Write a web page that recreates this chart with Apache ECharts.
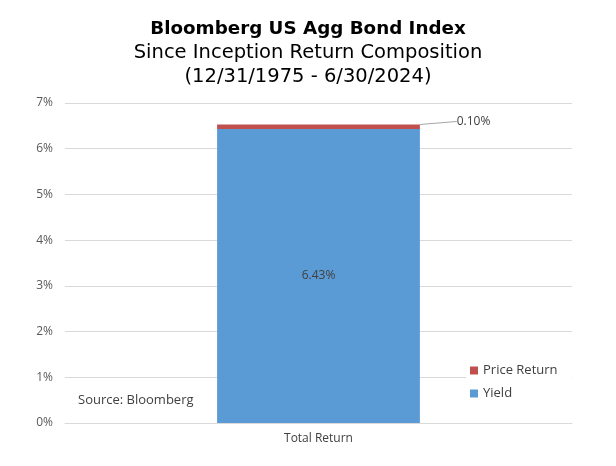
<!DOCTYPE html>
<html><head><meta charset="utf-8">
<script src="https://cdn.jsdelivr.net/npm/echarts@6/dist/echarts.min.js"></script>
<style>html,body{margin:0;padding:0;background:#fff}#c{width:616px;height:466px}</style>
</head><body><div id="c"></div>
<script>
var categories = ['Total Return'];
var yieldValues = [6.43];
var priceReturnValues = [0.10];
var yTicks = [0, 1, 2, 3, 4, 5, 6, 7];

var font = 'Open Sans';
var titleFont = 'DejaVu Sans';
var chart = echarts.init(document.getElementById('c'));
chart.setOption({
  animation: false,
  textStyle: {fontFamily: font},
  title: {
    left: 'center', top: 15,
    text: 'Bloomberg US Agg Bond Index',
    subtext: 'Since Inception Return Composition\n(12/31/1975 - 6/30/2024)',
    itemGap: 3,
    textStyle: {fontFamily: titleFont, fontSize: 18.3, fontWeight: 'bold', color: '#000'},
    subtextStyle: {fontFamily: titleFont, fontSize: 19.5, color: '#000', lineHeight: 24}
  },
  grid: {left: 65, right: 44, top: 103, bottom: 43},
  legend: {
    orient: 'vertical', left: 466, top: 362,
    data: ['Price Return', 'Yield'],
    itemWidth: 8, itemHeight: 8, itemGap: 10,
    icon: 'rect',
    backgroundColor: '#fff',
    padding: [2, 14, 2, 4],
    textStyle: {fontFamily: font, fontSize: 13, color: '#404040'}
  },
  xAxis: {
    type: 'category', data: categories,
    axisLine: {lineStyle: {color: '#d9d9d9'}},
    axisTick: {show: false},
    axisLabel: {fontFamily: font, fontSize: 12, color: '#404040', margin: 10}
  },
  yAxis: {
    type: 'value', min: yTicks[0], max: yTicks[yTicks.length - 1], interval: 1,
    axisLine: {show: false}, axisTick: {show: false},
    splitLine: {lineStyle: {color: '#d9d9d9'}},
    axisLabel: {fontFamily: font, fontSize: 12, color: '#595959', margin: 12, formatter: '{value}%'}
  },
  series: [
    {
      name: 'Yield', type: 'bar', stack: 'total', data: yieldValues, barWidth: '40%',
      itemStyle: {color: '#5b9bd5'},
      label: {show: true, position: 'inside', formatter: function(p){return p.value.toFixed(2) + '%';},
        fontFamily: font, fontSize: 12, color: '#404040'}
    },
    {
      name: 'Price Return', type: 'bar', stack: 'total', data: priceReturnValues, barWidth: '40%',
      itemStyle: {color: '#c0504d'},
      label: {show: true, position: 'top', formatter: function(p){return p.value.toFixed(2) + '%';},
        fontFamily: font, fontSize: 12, color: '#404040'},
      labelLayout: {dx: 155, dy: 8},
      labelLine: {show: true, lineStyle: {color: '#a6a6a6', width: 1}}
    }
  ],
  graphic: [{
    type: 'text', left: 78, top: 394,
    style: {text: 'Source: Bloomberg', fontFamily: font, fontSize: 13, fill: '#404040'}
  }]
});
</script></body></html>
